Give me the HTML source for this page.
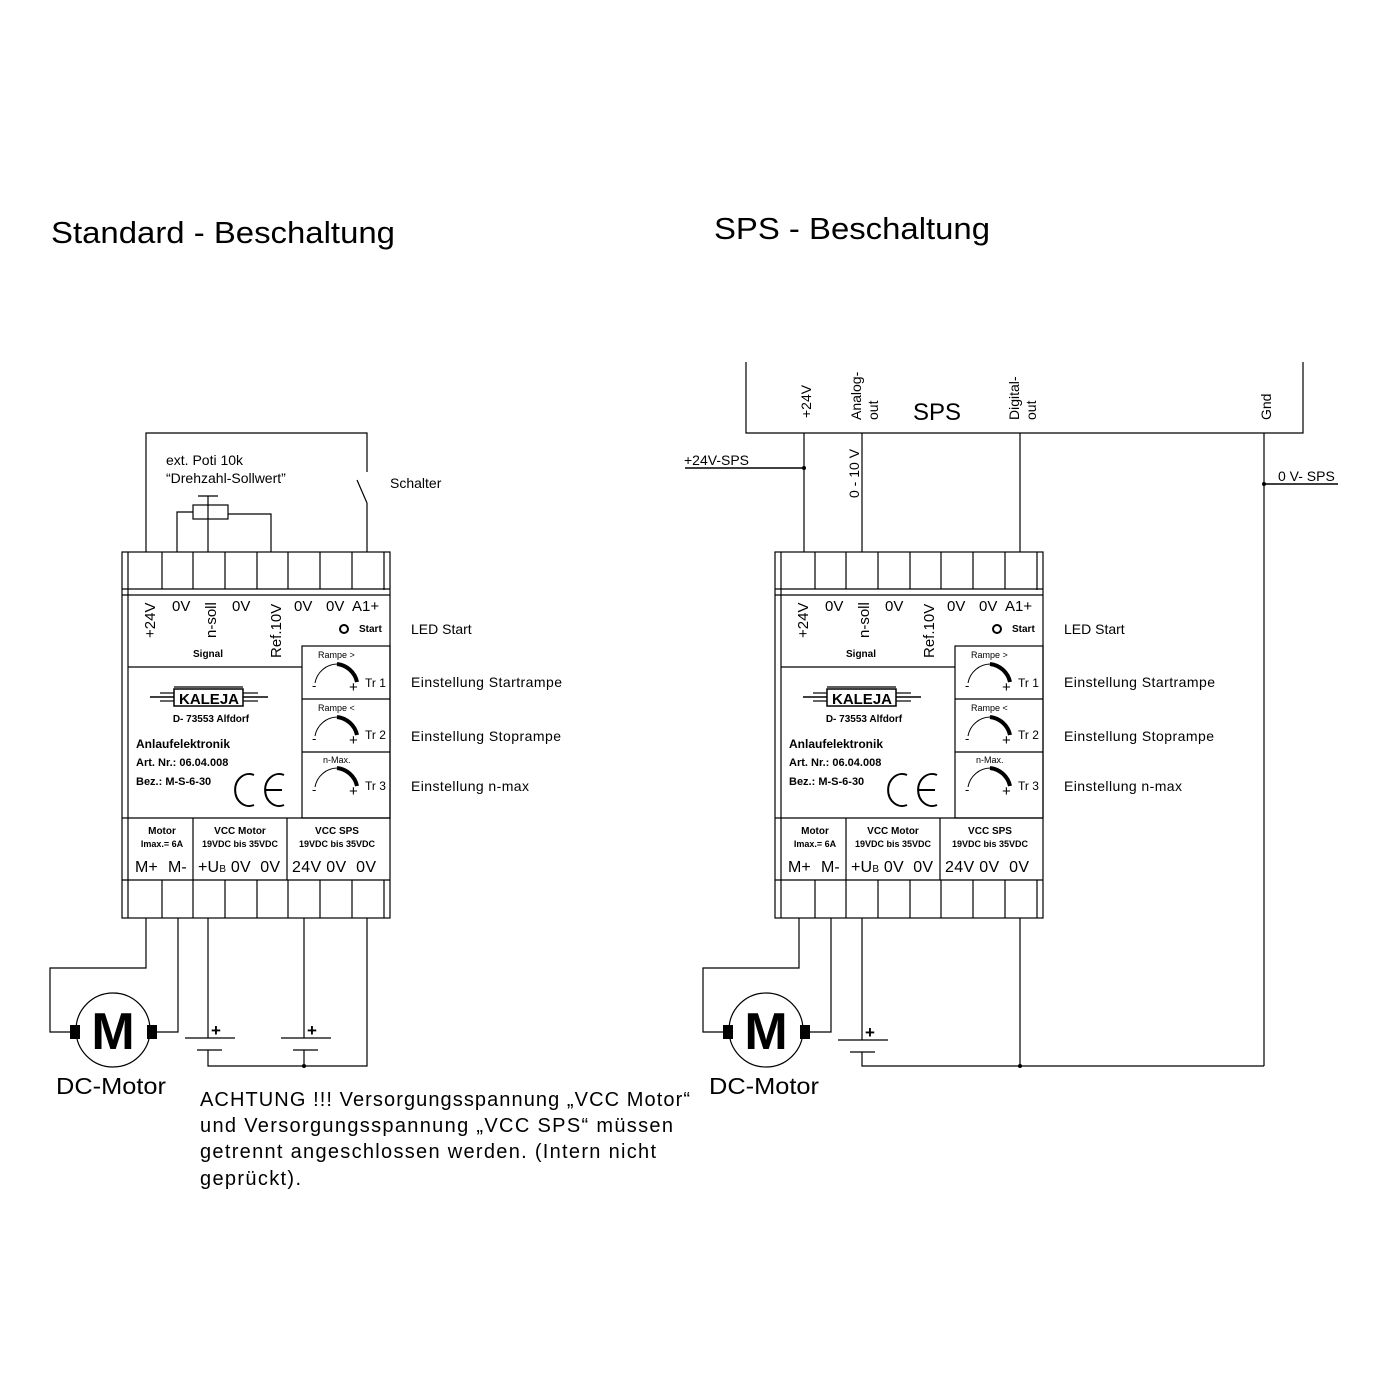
<!DOCTYPE html>
<html><head><meta charset="utf-8"><style>
html,body{margin:0;padding:0;background:#fff;}
svg{display:block;font-family:"Liberation Sans",Arial,sans-serif;}
.b{font-weight:bold;}
</style></head><body>
<svg width="1400" height="1400" viewBox="0 0 1400 1400" xmlns="http://www.w3.org/2000/svg">
<rect width="1400" height="1400" fill="#fff"/>
<text x="51" y="243" font-size="31" textLength="344" lengthAdjust="spacingAndGlyphs">Standard - Beschaltung</text>
<text x="714" y="239" font-size="31" textLength="276" lengthAdjust="spacingAndGlyphs">SPS - Beschaltung</text>

<defs>
<g id="mod" fill="none" stroke="#000" stroke-width="1.2">
  <rect x="122" y="552" width="268" height="366"/>
  <line x1="128" y1="552" x2="128" y2="918"/>
  <line x1="384" y1="552" x2="384" y2="590"/>
  <line x1="384" y1="880" x2="384" y2="918"/>
  <line x1="122" y1="589" x2="390" y2="589"/>
  <line x1="122" y1="595" x2="390" y2="595"/>
  <g>
    <line x1="162" y1="552" x2="162" y2="589"/><line x1="193" y1="552" x2="193" y2="589"/>
    <line x1="225" y1="552" x2="225" y2="589"/><line x1="257" y1="552" x2="257" y2="589"/>
    <line x1="288" y1="552" x2="288" y2="589"/><line x1="320" y1="552" x2="320" y2="589"/>
    <line x1="352" y1="552" x2="352" y2="589"/>
    <line x1="162" y1="880" x2="162" y2="918"/><line x1="193" y1="880" x2="193" y2="918"/>
    <line x1="225" y1="880" x2="225" y2="918"/><line x1="257" y1="880" x2="257" y2="918"/>
    <line x1="288" y1="880" x2="288" y2="918"/><line x1="320" y1="880" x2="320" y2="918"/>
    <line x1="352" y1="880" x2="352" y2="918"/>
  </g>
  <line x1="128" y1="667" x2="302" y2="667"/>
  <rect x="302" y="646" width="88" height="172"/>
  <line x1="302" y1="699" x2="390" y2="699"/>
  <line x1="302" y1="752" x2="390" y2="752"/>
  <line x1="122" y1="818" x2="390" y2="818"/>
  <line x1="193" y1="818" x2="193" y2="880"/>
  <line x1="287" y1="818" x2="287" y2="880"/>
  <line x1="122" y1="880" x2="390" y2="880"/>
  <circle cx="344" cy="629" r="4" stroke-width="2"/>
  <path d="M315 683 A23 23 0 0 1 337 664" stroke-width="1"/>
  <path d="M337 664 A23 23 0 0 1 357 682" stroke-width="4"/>
  <path d="M315 736 A23 23 0 0 1 337 717" stroke-width="1"/>
  <path d="M337 717 A23 23 0 0 1 357 735" stroke-width="4"/>
  <path d="M315 787 A23 23 0 0 1 337 768" stroke-width="1"/>
  <path d="M337 768 A23 23 0 0 1 357 786" stroke-width="4"/>
  <rect x="174" y="689" width="69" height="17" stroke-width="1.5"/>
  <line x1="174" y1="687" x2="243" y2="687"/>
  <line x1="150" y1="697" x2="174" y2="697" stroke-width="1.5"/>
  <line x1="160" y1="693" x2="174" y2="693"/><line x1="160" y1="701" x2="174" y2="701"/>
  <line x1="243" y1="697" x2="268" y2="697" stroke-width="1.5"/>
  <line x1="243" y1="693" x2="258" y2="693"/><line x1="243" y1="701" x2="258" y2="701"/>
  <path d="M254 775 A14 16 0 1 0 254 805" stroke-width="2"/>
  <path d="M284 775 A14 16 0 1 0 284 805" stroke-width="2"/>
  <line x1="266" y1="790" x2="282" y2="790" stroke-width="2"/>
</g>
<g id="modtxt" font-size="15">
  <text transform="translate(155,638) rotate(-90)">+24V</text>
  <text x="172" y="611">0V</text>
  <text transform="translate(216,638) rotate(-90)">n-soll</text>
  <text x="232" y="611">0V</text>
  <text transform="translate(281,658) rotate(-90)">Ref.10V</text>
  <text x="294" y="611">0V</text>
  <text x="326" y="611">0V</text>
  <text x="352" y="611">A1+</text>
  <text x="359" y="632" font-size="10" class="b">Start</text>
  <text x="193" y="657" font-size="10" class="b">Signal</text>
  <text x="318" y="658" font-size="9">Rampe &gt;</text>
  <text x="318" y="711" font-size="9">Rampe &lt;</text>
  <text x="323" y="763" font-size="9">n-Max.</text>
  <text x="312" y="690" font-size="13">-</text><text x="349" y="692" font-size="15">+</text><text x="365" y="687" font-size="12">Tr 1</text>
  <text x="312" y="743" font-size="13">-</text><text x="349" y="745" font-size="15">+</text><text x="365" y="739" font-size="12">Tr 2</text>
  <text x="312" y="794" font-size="13">-</text><text x="349" y="796" font-size="15">+</text><text x="365" y="790" font-size="12">Tr 3</text>
  <text x="209" y="704" font-size="15" class="b" text-anchor="middle">KALEJA</text>
  <text x="211" y="722" font-size="10" class="b" text-anchor="middle">D- 73553 Alfdorf</text>
  <text x="136" y="748" font-size="12" class="b">Anlaufelektronik</text>
  <text x="136" y="766" font-size="11" class="b">Art. Nr.: 06.04.008</text>
  <text x="136" y="785" font-size="11" class="b">Bez.: M-S-6-30</text>
  <text x="162" y="834" font-size="10" class="b" text-anchor="middle">Motor</text>
  <text x="162" y="847" font-size="9" class="b" text-anchor="middle">Imax.= 6A</text>
  <text x="240" y="834" font-size="10" class="b" text-anchor="middle">VCC Motor</text>
  <text x="240" y="847" font-size="9" class="b" text-anchor="middle">19VDC bis 35VDC</text>
  <text x="337" y="834" font-size="10" class="b" text-anchor="middle">VCC SPS</text>
  <text x="337" y="847" font-size="9" class="b" text-anchor="middle">19VDC bis 35VDC</text>
  <text x="135" y="872" font-size="16">M+</text><text x="168" y="872" font-size="16">M-</text>
  <text x="198" y="872" font-size="16" textLength="82" xml:space="preserve">+U<tspan font-size="10">B</tspan> 0V  0V</text>
  <text x="292" y="872" font-size="16" textLength="84" xml:space="preserve">24V 0V  0V</text>
</g>
</defs>

<use href="#mod"/>
<use href="#modtxt"/>
<use href="#mod" transform="translate(653,0)"/>
<use href="#modtxt" transform="translate(653,0)"/>

<g font-size="14">
<text x="411" y="634">LED Start</text>
<text x="411" y="687" textLength="151">Einstellung Startrampe</text>
<text x="411" y="741" textLength="150">Einstellung Stoprampe</text>
<text x="411" y="791" textLength="118">Einstellung n-max</text>
<text x="1064" y="634">LED Start</text>
<text x="1064" y="687" textLength="151">Einstellung Startrampe</text>
<text x="1064" y="741" textLength="150">Einstellung Stoprampe</text>
<text x="1064" y="791" textLength="118">Einstellung n-max</text>
<text x="166" y="465">ext. Poti 10k</text>
<text x="166" y="483">“Drehzahl-Sollwert”</text>
<text x="390" y="488">Schalter</text>
</g>

<g fill="none" stroke="#000" stroke-width="1.2">
  <polyline points="146,552 146,433 367,433 367,472"/>
  <line x1="357" y1="480" x2="367" y2="503"/>
  <line x1="367" y1="503" x2="367" y2="552"/>
  <rect x="193" y="505" width="35" height="14"/>
  <polyline points="193,512 177,512 177,552"/>
  <line x1="208" y1="496" x2="208" y2="552"/>
  <line x1="198" y1="496" x2="218" y2="496"/>
  <polyline points="228,514 271,514 271,552"/>
  <polyline points="146,918 146,968 50,968 50,1032 72,1032"/>
  <polyline points="157,1032 178,1032 178,918"/>
  <line x1="208" y1="918" x2="208" y2="1038"/>
  <line x1="185" y1="1038" x2="235" y2="1038"/>
  <line x1="197" y1="1050" x2="222" y2="1050"/>
  <polyline points="208,1050 208,1066 367,1066 367,918"/>
  <line x1="304" y1="918" x2="304" y2="1038"/>
  <line x1="281" y1="1038" x2="331" y2="1038"/>
  <line x1="293" y1="1050" x2="318" y2="1050"/>
  <line x1="304" y1="1050" x2="304" y2="1066"/>
  <circle cx="113" cy="1030" r="37"/>
  <polyline points="746,362 746,433 1303,433 1303,362"/>
  <line x1="804" y1="433" x2="804" y2="552"/>
  <line x1="862" y1="433" x2="862" y2="552"/>
  <line x1="1020" y1="433" x2="1020" y2="552"/>
  <line x1="1264" y1="433" x2="1264" y2="1066"/>
  <line x1="685" y1="468" x2="804" y2="468" stroke-width="1.6"/>
  <line x1="1264" y1="484" x2="1338" y2="484" stroke-width="1.6"/>
  <polyline points="799,918 799,968 703,968 703,1032 725,1032"/>
  <polyline points="810,1032 831,1032 831,918"/>
  <line x1="862" y1="918" x2="862" y2="1040"/>
  <line x1="838" y1="1040" x2="888" y2="1040"/>
  <line x1="850" y1="1052" x2="875" y2="1052"/>
  <polyline points="862,1052 862,1066 1264,1066"/>
  <line x1="1020" y1="918" x2="1020" y2="1066"/>
  <circle cx="766" cy="1030" r="37"/>
</g>
<g fill="#000">
  <rect x="70" y="1025" width="10" height="14"/><rect x="147" y="1025" width="10" height="14"/>
  <rect x="723" y="1025" width="10" height="14"/><rect x="800" y="1025" width="10" height="14"/>
  <circle cx="304" cy="1066" r="2"/><circle cx="1020" cy="1066" r="2"/>
  <circle cx="804" cy="468" r="2"/><circle cx="1264" cy="484" r="2"/>
</g>
<g font-size="52" class="b" text-anchor="middle">
  <text x="113" y="1049">M</text>
  <text x="766" y="1049">M</text>
</g>
<g font-size="17" font-weight="bold">
  <text x="211" y="1036">+</text><text x="307" y="1036">+</text><text x="865" y="1038">+</text>
</g>
<text x="56" y="1094" font-size="23" textLength="110" lengthAdjust="spacingAndGlyphs">DC-Motor</text>
<text x="709" y="1094" font-size="23" textLength="110" lengthAdjust="spacingAndGlyphs">DC-Motor</text>
<g font-size="14">
  <text transform="translate(811,418) rotate(-90)">+24V</text>
  <text transform="translate(861,420) rotate(-90)">Analog-</text>
  <text transform="translate(878,420) rotate(-90)">out</text>
  <text transform="translate(1019,420) rotate(-90)">Digital-</text>
  <text transform="translate(1036,420) rotate(-90)">out</text>
  <text transform="translate(1271,420) rotate(-90)">Gnd</text>
  <text transform="translate(859,498) rotate(-90)">0 - 10 V</text>
  <text x="684" y="465">+24V-SPS</text>
  <text x="1278" y="481">0 V- SPS</text>
</g>
<text x="913" y="420" font-size="24">SPS</text>
<g font-size="20">
  <text x="200" y="1106" textLength="490">ACHTUNG !!!  Versorgungsspannung „VCC Motor“</text>
  <text x="200" y="1132" textLength="473">und Versorgungsspannung „VCC SPS“ müssen</text>
  <text x="200" y="1158" textLength="456">getrennt angeschlossen werden. (Intern nicht</text>
  <text x="200" y="1185" textLength="101">geprückt).</text>
</g>
</svg>
</body></html>
